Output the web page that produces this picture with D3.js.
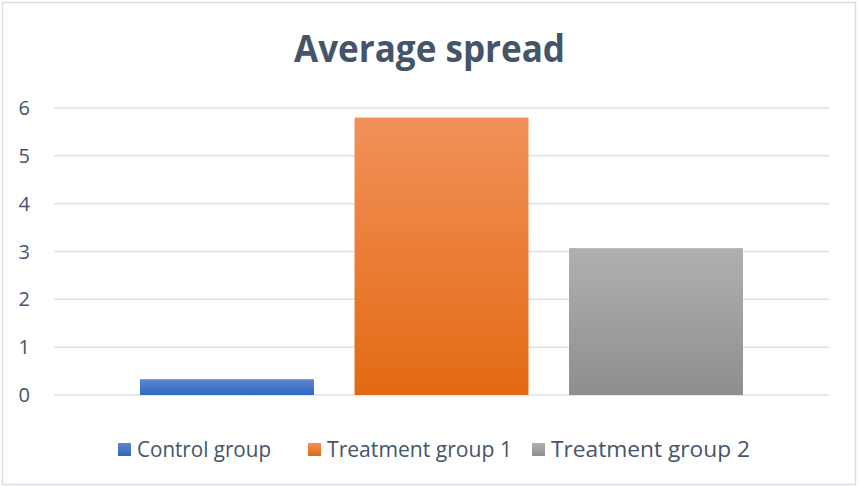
<!DOCTYPE html>
<html>
<head>
<meta charset="utf-8">
<script src="https://cdn.jsdelivr.net/npm/d3@7"></script>
<style>
  body { margin: 0; background: #fff; }
  text { font-family: "Open Sans", sans-serif; fill: #44546a; }
</style>
</head>
<body>
<script>
var categories = ["Control group", "Treatment group 1", "Treatment group 2"];
var values = [0.33, 5.8, 3.07];
var yTicks = [0, 1, 2, 3, 4, 5, 6];
var title = "Average spread";
// top / bottom colours of each bar's gradient
var gradTop = ["#5c88d0", "#f1915a", "#b0b0b0"];
var gradBottom = ["#3165c0", "#e36a12", "#8e8e8e"];

var width = 858, height = 486;
var plotLeft = 54, plotRight = 829, plotTop = 108, plotBottom = 395;

var svg = d3.select("body").append("svg")
    .attr("width", width)
    .attr("height", height);

var defs = svg.append("defs");
categories.forEach(function(c, i){
    var g = defs.append("linearGradient")
        .attr("id", "grad" + i)
        .attr("x1", 0).attr("y1", 0).attr("x2", 0).attr("y2", 1);
    g.append("stop").attr("offset", "0%").attr("stop-color", gradTop[i]);
    g.append("stop").attr("offset", "100%").attr("stop-color", gradBottom[i]);
});

// chart border
svg.append("rect")
    .attr("x", 2.5).attr("y", 2.5)
    .attr("width", 853).attr("height", 482)
    .attr("fill", "#fff")
    .attr("stroke", "#d9dde3")
    .attr("stroke-width", 1.5);

var x = d3.scaleBand()
    .domain(categories)
    .range([plotLeft, plotRight])
    .paddingInner(0.189)
    .paddingOuter(0.401);

var y = d3.scaleLinear()
    .domain([0, 6])
    .range([plotBottom, plotTop]);

// gridlines
svg.append("g").selectAll("line")
    .data(yTicks)
    .enter().append("line")
    .attr("x1", plotLeft).attr("x2", plotRight)
    .attr("y1", function(d){ return y(d); })
    .attr("y2", function(d){ return y(d); })
    .attr("stroke", "#dde1e7")
    .attr("stroke-width", 1.5);

// y labels
svg.append("g").selectAll("text")
    .data(yTicks)
    .enter().append("text")
    .attr("x", 30)
    .attr("y", function(d){ return y(d) + 7; })
    .attr("text-anchor", "end")
    .attr("font-size", 20)
    .text(function(d){ return d; });

// bars
svg.append("g").selectAll("rect")
    .data(values)
    .enter().append("rect")
    .attr("x", function(d, i){ return x(categories[i]); })
    .attr("width", x.bandwidth())
    .attr("y", function(d){ return y(d); })
    .attr("height", function(d){ return y(0) - y(d); })
    .attr("fill", function(d, i){ return "url(#grad" + i + ")"; });

// title
svg.append("text")
    .attr("x", 429.5)
    .attr("y", 62)
    .attr("text-anchor", "middle")
    .attr("font-size", 37)
    .attr("font-weight", "bold")
    .attr("textLength", 271)
    .attr("lengthAdjust", "spacingAndGlyphs")
    .text(title);

// legend
var legendX = [118, 308, 532];
var legendW = [134, 185, 199];
var legend = svg.append("g").selectAll("g")
    .data(categories)
    .enter().append("g")
    .attr("transform", function(d, i){ return "translate(" + legendX[i] + ",443)"; });

legend.append("rect")
    .attr("width", 13).attr("height", 13)
    .attr("fill", function(d, i){ return "url(#grad" + i + ")"; });

legend.append("text")
    .attr("x", 19)
    .attr("y", 14)
    .attr("font-size", 21)
    .attr("textLength", function(d, i){ return legendW[i]; })
    .attr("lengthAdjust", "spacingAndGlyphs")
    .text(function(d){ return d; });
</script>
</body>
</html>
